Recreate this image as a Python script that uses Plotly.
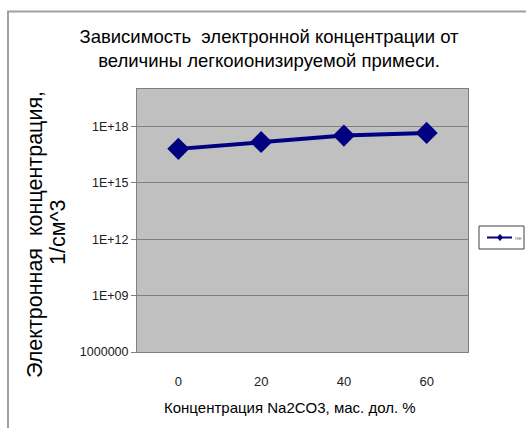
import plotly.graph_objects as go

# Na2CO3 content, mass fraction %
categories = ["0", "20", "40", "60"]
# electron concentration, 1/cm^3
ne_values = [6.5e16, 1.5e17, 3.3e17, 4.6e17]
series_name = "ne"

y_tickvals = [1e6, 1e9, 1e12, 1e15, 1e18]
y_ticktext = ["1000000", "1E+09", "1E+12", "1E+15", "1E+18"]

title_text = "Зависимость  электронной концентрации от<br>величины легкоионизируемой примеси."
x_title = "Концентрация Na2CO3, мас. дол. %"
y_title_lines = ["Электронная  концентрация,", "1/см^3"]

NAVY = "#000080"

fig = go.Figure()
fig.add_trace(go.Scatter(
    x=categories, y=ne_values, name=series_name,
    mode="lines+markers",
    line=dict(color=NAVY, width=4),
    marker=dict(symbol="diamond", size=17, color=NAVY),
    showlegend=False,
))

W, H = 526, 428
ml, mr, mt, mb = 137, 58, 89, 76
pw, ph = W - ml - mr, H - mt - mb

def px_x(p):
    return (p - ml) / pw

def px_y(p):
    return (H - mb - p) / ph

# small legend box at the right of the plot area
lg_x0, lg_x1, lg_y0, lg_y1 = 479, 524, 226, 249
lg_mid = (lg_y0 + lg_y1) / 2
dx = 2.5 / pw
dy = 3.0 / ph
mx, my = px_x(500), px_y(lg_mid)
diamond = (f"M {mx - dx} {my} L {mx} {my + dy} L {mx + dx} {my} "
           f"L {mx} {my - dy} Z")

shapes = [
    # chart frame
    dict(type="rect", xref="paper", yref="paper",
         x0=px_x(8), x1=px_x(540), y0=px_y(440), y1=px_y(11.5),
         line=dict(color="#A0A0A0", width=2), fillcolor="rgba(0,0,0,0)",
         layer="below"),
    dict(type="rect", xref="paper", yref="paper",
         x0=px_x(lg_x0), x1=px_x(lg_x1), y0=px_y(lg_y1), y1=px_y(lg_y0),
         line=dict(color="#404040", width=1), fillcolor="white"),
    dict(type="line", xref="paper", yref="paper",
         x0=px_x(487), x1=px_x(512), y0=px_y(lg_mid), y1=px_y(lg_mid),
         line=dict(color=NAVY, width=2)),
    dict(type="path", xref="paper", yref="paper", path=diamond,
         line=dict(color=NAVY, width=1), fillcolor=NAVY),
]

annotations = [
    dict(text=series_name, xref="paper", yref="paper",
         x=px_x(513), y=px_y(lg_mid), xanchor="left", yanchor="middle",
         showarrow=False, font=dict(size=6, color="#707070")),
    # axis titles
    dict(text=x_title, xref="paper", yref="paper",
         x=px_x(290), y=px_y(407), xanchor="center", yanchor="middle",
         showarrow=False, font=dict(size=15, color="#000000")),
    dict(text=y_title_lines[0], xref="paper", yref="paper", textangle=-90,
         x=px_x(35), y=px_y(235), xanchor="center", yanchor="middle",
         showarrow=False, font=dict(size=21.5, color="#000000")),
    dict(text=y_title_lines[1], xref="paper", yref="paper", textangle=-90,
         x=px_x(58), y=px_y(232), xanchor="center", yanchor="middle",
         showarrow=False, font=dict(size=21.5, color="#000000")),
]

fig.update_layout(
    width=W, height=H,
    margin=dict(l=ml, r=mr, t=mt, b=mb, pad=0),
    paper_bgcolor="white",
    plot_bgcolor="#C0C0C0",
    font=dict(family="Liberation Sans, Arial, sans-serif", color="#000000"),
    showlegend=False,
    xaxis=dict(
        type="category", range=[-0.5, 3.5],
        showgrid=False, zeroline=False,
        showline=True, linecolor="#808080", linewidth=1, mirror=True,
        ticks="", ticklabelstandoff=17,
        tickfont=dict(size=13, color="#202020"),
    ),
    yaxis=dict(
        type="log", range=[6, 20],
        tickvals=y_tickvals, ticktext=y_ticktext,
        showgrid=True, gridcolor="#808080", gridwidth=1,
        zeroline=False,
        showline=True, linecolor="#808080", linewidth=1, mirror=True,
        ticks="outside", ticklen=5, tickcolor="#808080",
        tickfont=dict(size=12.5, color="#202020"),
    ),
    title=dict(
        text=title_text,
        x=px_x(269), xanchor="center", xref="paper",
        y=1 - 43 / H, yanchor="top",
        font=dict(size=18.5, color="#000000"),
    ),
    shapes=shapes,
    annotations=annotations,
)

fig.write_html("out.html")
